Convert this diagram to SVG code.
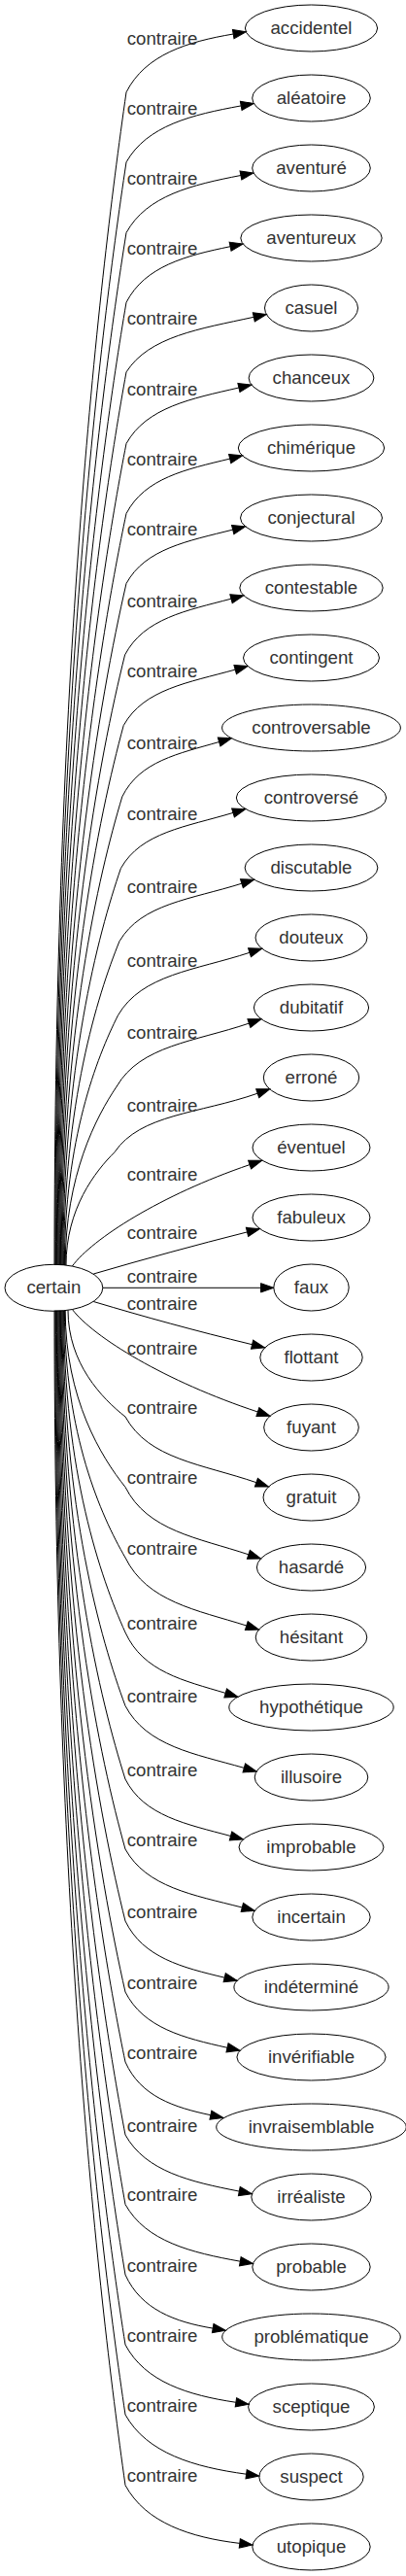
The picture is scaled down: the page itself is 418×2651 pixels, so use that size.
<svg xmlns="http://www.w3.org/2000/svg" width="418" height="2651" viewBox="0 0 418 2651">
<style>
.n ellipse{fill:none;stroke:#000;stroke-width:1}
text{font-family:"Liberation Sans",Arial,sans-serif;font-size:18.67px;fill:#333;text-anchor:middle}
.e path{fill:none;stroke:#000;stroke-width:1;marker-end:url(#ah)}
</style>
<defs>
<marker id="ah" markerUnits="userSpaceOnUse" markerWidth="15" markerHeight="12" viewBox="0 -6 15 12" refX="0" refY="0" orient="auto" overflow="visible">
<path d="M0,-4.67 L13.3,0 L0,4.67 Z" fill="#000" stroke="#000" stroke-width="1"/>
</marker>
</defs>
<rect width="418" height="2651" fill="#fff"/>
<g id="connectors" class="e">
<path d="M56,1302 C56,698.5 100.4,300.1 130,94.9 C149.8,56 193,43 240.2,35"/>
<path d="M56.8,1302 C56.8,734.5 100.7,359.9 130,166.9 C151.3,129.2 197.6,118.1 248.2,108.9"/>
<path d="M57.6,1302 C57.6,770.8 101,420.1 130,239.5 C151.2,201.1 197.5,190.3 247.9,180.5"/>
<path d="M58.4,1302 C58.4,806.6 101.4,479.6 130,311.2 C149.3,273.8 191.5,263.1 237.1,253.7"/>
<path d="M59.2,1302 C59.2,842.5 101.7,539.1 130,382.9 C153.6,346.1 205.5,338.5 261.3,326.3"/>
<path d="M60,1302 C60,879.3 102,600.2 130,456.5 C150.9,419.1 196.8,410.3 245.9,399"/>
<path d="M60.8,1302 C60.8,915.3 102.3,660 130,528.5 C149.2,491.8 191.6,483 236.7,472.1"/>
<path d="M61.6,1302 C61.6,951.3 102.6,719.8 130,600.5 C149.7,564.5 193.5,556.8 239.7,545.1"/>
<path d="M62.4,1302 C62.4,988 102.1,780.7 128.6,673.9 C148.3,636.4 192,628.4 238,616.2"/>
<path d="M63.2,1302 C63.2,1024.3 101.6,841 127.2,746.6 C147.9,709.2 194,702.5 242.2,689.1"/>
<path d="M64,1302 C64,1061 101.1,901.9 125.8,819.9 C143.8,783.2 183.9,775.6 225.6,763.5"/>
<path d="M64.8,1302 C64.8,1097.8 100.6,963 124.4,893.6 C145.2,856.4 191.8,850.9 240,836.4"/>
<path d="M65.6,1302 C65.6,1135.3 100,1025.3 123,968.6 C145.7,930 196.6,925.6 248.9,909.2"/>
<path d="M66.4,1302 C66.4,1173.4 99.5,1088.4 121.6,1044.7 C146,1002.8 201,998.6 257,980.3"/>
<path d="M67.2,1302 C67.2,1210 99,1149.3 120.2,1118 C144.7,1075.8 200.3,1072.1 256.4,1053.1"/>
<path d="M68,1302 C68,1243.9 98,1205.5 118,1185.7 C144.5,1146.4 204.8,1146.3 265.2,1125.2"/>
<path d="M74.4,1303 C95,1275 165,1230 257.1,1198.6"/>
<path d="M96.3,1311 C150,1295.3 200,1281.7 254.5,1267.9"/>
<path d="M105.8,1325.3 L268.5,1325.3"/>
<path d="M96.3,1339.5 C150,1355.5 200,1369.3 259.6,1383.7"/>
<path d="M74.4,1347.5 C96,1376 170.4,1421.7 265.4,1453"/>
<path d="M70,1348.3 C70,1403.3 105.4,1439.4 129,1458 C153.3,1502 208.4,1506.6 263.9,1525.7"/>
<path d="M67.2,1348.6 C67.2,1439.5 104.3,1499.5 129,1530.4 C151.8,1575.5 203.5,1582.5 255.9,1599.8"/>
<path d="M66.4,1348.6 C66.4,1475.8 104,1559.8 129,1603 C151.5,1648.5 202,1656.7 253.8,1673"/>
<path d="M65.6,1348.6 C65.6,1514.3 103.6,1623.7 129,1680 C147.6,1720.6 189.2,1729.5 232.2,1742.4"/>
<path d="M64.8,1348.6 C64.8,1552.1 103.3,1686.3 129,1755.5 C151,1797 200.1,1804.8 251.3,1819.4"/>
<path d="M64,1348.6 C64,1589.8 103,1749 129,1831 C148.5,1869 191.9,1877.2 237.5,1889.5"/>
<path d="M63.2,1348.6 C63.2,1625.8 102.7,1808.8 129,1903 C150.7,1942 198.6,1950.1 249.3,1963"/>
<path d="M62.4,1348.6 C62.4,1662.8 102.4,1870.2 129,1977 C147.4,2014.8 187.9,2024.8 231.2,2035.2"/>
<path d="M61.6,1348.6 C61.6,1699.3 102,1930.8 129,2050 C147.9,2087.2 189.4,2097.3 234,2107.3"/>
<path d="M60.8,1348.6 C60.8,1735.3 101.7,1990.5 129,2122 C144.8,2157.6 179.5,2168.8 216.9,2176.7"/>
<path d="M60,1348.6 C60,1772.8 101.4,2052.8 129,2197 C150.1,2234.8 196.2,2245.3 246.3,2255.1"/>
<path d="M59.2,1348.6 C59.2,1808.6 101.1,2112.2 129,2268.6 C150.3,2306.7 196.6,2318.1 247.3,2327.2"/>
<path d="M58.4,1348.6 C58.4,1844.8 100.8,2172.3 129,2341 C145.2,2376.8 180.5,2389.7 219.2,2396.1"/>
<path d="M57.6,1348.6 C57.6,1880.8 100.4,2232.1 129,2413 C149.5,2451.5 193.9,2465 242.9,2472.3"/>
<path d="M56.8,1348.6 C56.8,1916.8 100.1,2291.8 129,2485 C151.4,2524.8 199.9,2538.9 253.6,2546.2"/>
<path d="M56,1348.6 C56,1953.1 99.8,2352.1 129,2557.6 C150.2,2596.5 196,2611.3 246.8,2617.4"/>
<g id="edge-labels">
<text x="167" y="45.5">contraire</text>
<text x="167" y="117.5">contraire</text>
<text x="167" y="190.1">contraire</text>
<text x="167" y="261.8">contraire</text>
<text x="167" y="333.5">contraire</text>
<text x="167" y="407.1">contraire</text>
<text x="167" y="479.1">contraire</text>
<text x="167" y="551.1">contraire</text>
<text x="167" y="624.5">contraire</text>
<text x="167" y="697.2">contraire</text>
<text x="167" y="770.5">contraire</text>
<text x="167" y="844.2">contraire</text>
<text x="167" y="919.2">contraire</text>
<text x="167" y="995.3">contraire</text>
<text x="167" y="1068.6">contraire</text>
<text x="167" y="1144.3">contraire</text>
<text x="167" y="1215.3">contraire</text>
<text x="167" y="1274.6">contraire</text>
<text x="167" y="1320.1">contraire</text>
<text x="167" y="1348.2">contraire</text>
<text x="167" y="1393.8">contraire</text>
<text x="167" y="1454.6">contraire</text>
<text x="167" y="1527">contraire</text>
<text x="167" y="1599.6">contraire</text>
<text x="167" y="1676.6">contraire</text>
<text x="167" y="1752.1">contraire</text>
<text x="167" y="1827.6">contraire</text>
<text x="167" y="1899.6">contraire</text>
<text x="167" y="1973.6">contraire</text>
<text x="167" y="2046.6">contraire</text>
<text x="167" y="2118.6">contraire</text>
<text x="167" y="2193.6">contraire</text>
<text x="167" y="2265.2">contraire</text>
<text x="167" y="2337.6">contraire</text>
<text x="167" y="2409.6">contraire</text>
<text x="167" y="2481.6">contraire</text>
<text x="167" y="2554.2">contraire</text>
</g>
</g>
<g id="node-certain" class="n"><ellipse cx="55.4" cy="1325.3" rx="50.4" ry="24"/><text x="55.4" y="1331.3">certain</text></g>
<g id="node-accidentel" class="n"><ellipse cx="320.5" cy="29" rx="68.1" ry="24"/><text x="320.5" y="35">accidentel</text></g>
<g id="node-aleatoire" class="n"><ellipse cx="320.5" cy="101" rx="60.8" ry="24"/><text x="320.5" y="107">aléatoire</text></g>
<g id="node-aventure" class="n"><ellipse cx="320.5" cy="173" rx="60.8" ry="24"/><text x="320.5" y="179">aventuré</text></g>
<g id="node-aventureux" class="n"><ellipse cx="320.5" cy="245" rx="72.7" ry="24"/><text x="320.5" y="251">aventureux</text></g>
<g id="node-casuel" class="n"><ellipse cx="320.5" cy="317" rx="48" ry="24"/><text x="320.5" y="323">casuel</text></g>
<g id="node-chanceux" class="n"><ellipse cx="320.5" cy="389" rx="64.4" ry="24"/><text x="320.5" y="395">chanceux</text></g>
<g id="node-chimerique" class="n"><ellipse cx="320.5" cy="461" rx="75.2" ry="24"/><text x="320.5" y="467">chimérique</text></g>
<g id="node-conjectural" class="n"><ellipse cx="320.5" cy="533" rx="73" ry="24"/><text x="320.5" y="539">conjectural</text></g>
<g id="node-contestable" class="n"><ellipse cx="320.5" cy="605" rx="73.7" ry="24"/><text x="320.5" y="611">contestable</text></g>
<g id="node-contingent" class="n"><ellipse cx="320.5" cy="677" rx="70" ry="24"/><text x="320.5" y="683">contingent</text></g>
<g id="node-controversable" class="n"><ellipse cx="320.5" cy="749" rx="91.9" ry="24"/><text x="320.5" y="755">controversable</text></g>
<g id="node-controverse" class="n"><ellipse cx="320.5" cy="821" rx="77.2" ry="24"/><text x="320.5" y="827">controversé</text></g>
<g id="node-discutable" class="n"><ellipse cx="320.5" cy="893" rx="68.4" ry="24"/><text x="320.5" y="899">discutable</text></g>
<g id="node-douteux" class="n"><ellipse cx="320.5" cy="965" rx="57.5" ry="24"/><text x="320.5" y="971">douteux</text></g>
<g id="node-dubitatif" class="n"><ellipse cx="320.5" cy="1037" rx="59.1" ry="24"/><text x="320.5" y="1043">dubitatif</text></g>
<g id="node-errone" class="n"><ellipse cx="320.5" cy="1109" rx="49.2" ry="24"/><text x="320.5" y="1115">erroné</text></g>
<g id="node-eventuel" class="n"><ellipse cx="320.5" cy="1181" rx="60.5" ry="24"/><text x="320.5" y="1187">éventuel</text></g>
<g id="node-fabuleux" class="n"><ellipse cx="320.5" cy="1253" rx="60.5" ry="24"/><text x="320.5" y="1259">fabuleux</text></g>
<g id="node-faux" class="n"><ellipse cx="320.5" cy="1325" rx="38.7" ry="24"/><text x="320.5" y="1331">faux</text></g>
<g id="node-flottant" class="n"><ellipse cx="320.5" cy="1397" rx="52.7" ry="24"/><text x="320.5" y="1403">flottant</text></g>
<g id="node-fuyant" class="n"><ellipse cx="320.5" cy="1469" rx="48.8" ry="24"/><text x="320.5" y="1475">fuyant</text></g>
<g id="node-gratuit" class="n"><ellipse cx="320.5" cy="1541" rx="49.5" ry="24"/><text x="320.5" y="1547">gratuit</text></g>
<g id="node-hasarde" class="n"><ellipse cx="320.5" cy="1613" rx="56.1" ry="24"/><text x="320.5" y="1619">hasardé</text></g>
<g id="node-hesitant" class="n"><ellipse cx="320.5" cy="1685" rx="57.3" ry="24"/><text x="320.5" y="1691">hésitant</text></g>
<g id="node-hypothetique" class="n"><ellipse cx="320.5" cy="1757" rx="84.7" ry="24"/><text x="320.5" y="1763">hypothétique</text></g>
<g id="node-illusoire" class="n"><ellipse cx="320.5" cy="1829" rx="58.3" ry="24"/><text x="320.5" y="1835">illusoire</text></g>
<g id="node-improbable" class="n"><ellipse cx="320.5" cy="1901" rx="74.5" ry="24"/><text x="320.5" y="1907">improbable</text></g>
<g id="node-incertain" class="n"><ellipse cx="320.5" cy="1973" rx="60.7" ry="24"/><text x="320.5" y="1979">incertain</text></g>
<g id="node-indetermine" class="n"><ellipse cx="320.5" cy="2045" rx="79.6" ry="24"/><text x="320.5" y="2051">indéterminé</text></g>
<g id="node-inverifiable" class="n"><ellipse cx="320.5" cy="2117" rx="76.6" ry="24"/><text x="320.5" y="2123">invérifiable</text></g>
<g id="node-invraisemblable" class="n"><ellipse cx="320.5" cy="2189" rx="97.8" ry="24"/><text x="320.5" y="2195">invraisemblable</text></g>
<g id="node-irrealiste" class="n"><ellipse cx="320.5" cy="2261" rx="61.7" ry="24"/><text x="320.5" y="2267">irréaliste</text></g>
<g id="node-probable" class="n"><ellipse cx="320.5" cy="2333" rx="60.7" ry="24"/><text x="320.5" y="2339">probable</text></g>
<g id="node-problematique" class="n"><ellipse cx="320.5" cy="2405" rx="91.8" ry="24"/><text x="320.5" y="2411">problématique</text></g>
<g id="node-sceptique" class="n"><ellipse cx="320.5" cy="2477" rx="64.9" ry="24"/><text x="320.5" y="2483">sceptique</text></g>
<g id="node-suspect" class="n"><ellipse cx="320.5" cy="2549" rx="53.7" ry="24"/><text x="320.5" y="2555">suspect</text></g>
<g id="node-utopique" class="n"><ellipse cx="320.5" cy="2621" rx="60.7" ry="24"/><text x="320.5" y="2627">utopique</text></g>
</svg>
